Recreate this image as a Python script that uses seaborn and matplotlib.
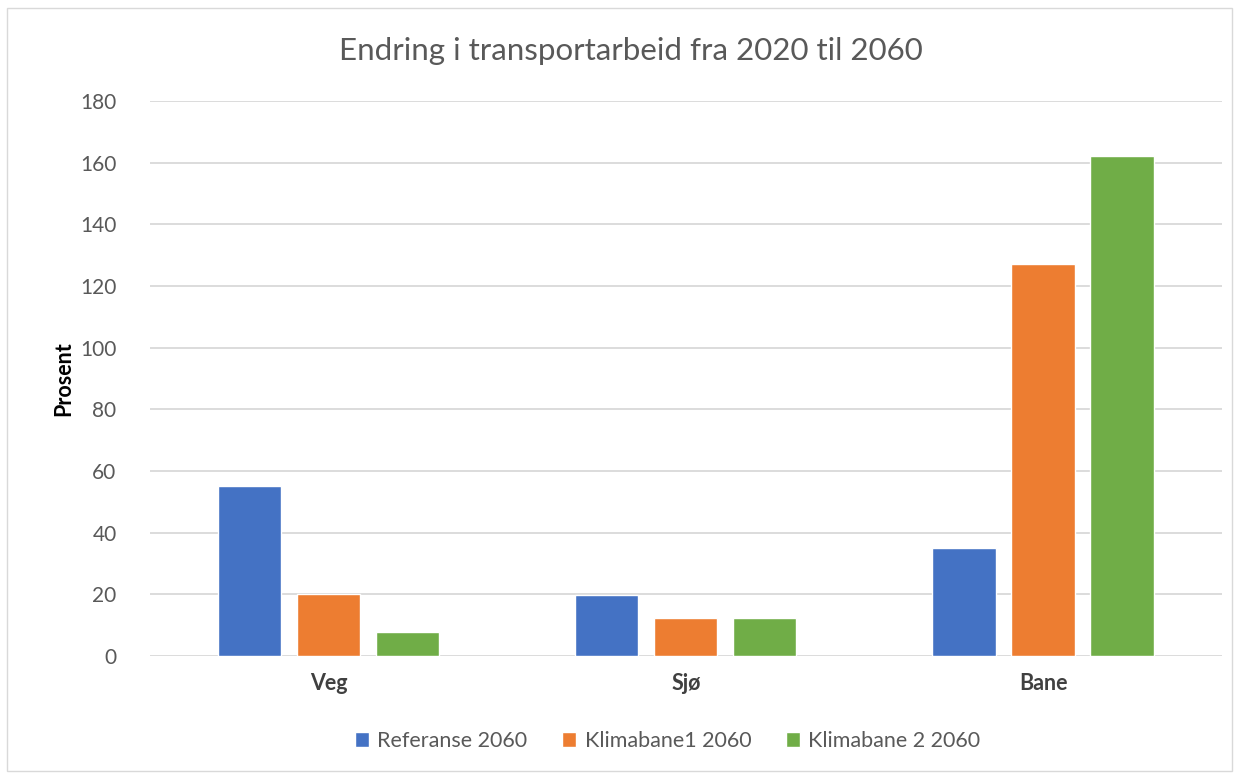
import numpy as np
import pandas as pd
import matplotlib.pyplot as plt
import seaborn as sns
from matplotlib.patches import Rectangle

# data
categories = ['Veg', 'Sjø', 'Bane']
series = ['Referanse 2060', 'Klimabane1 2060', 'Klimabane 2 2060']
referanse = [55, 19.7, 35]
klimabane1 = [20, 12.2, 127]
klimabane2 = [7.7, 12.2, 162]
colors = ['#4472C4', '#ED7D31', '#70AD47']

df = pd.DataFrame({
    'Kategori': categories * 3,
    'Serie': np.repeat(series, 3),
    'Prosent': referanse + klimabane1 + klimabane2,
})

sns.set_style('white')
plt.rcParams['font.family'] = ['Lato', 'DejaVu Sans']

fig = plt.figure(figsize=(12.39, 7.75), dpi=100)
ax = fig.add_axes([0.121, 0.1535, 0.865, 0.7162])

sns.barplot(data=df, x='Kategori', y='Prosent', hue='Serie', order=categories,
            hue_order=series, palette=colors, width=0.664, gap=0.2,
            saturation=1, ax=ax, legend=True)

ax.set_ylim(0, 180)
ax.set_yticks(range(0, 181, 20))
ax.set_xlim(-0.5, 2.5)
ax.yaxis.grid(True, color='#d9d9d9', lw=1.3)
ax.set_axisbelow(True)
for s in ax.spines.values():
    s.set_visible(False)
ax.tick_params(axis='y', length=0, labelsize=15, labelcolor='#595959', pad=24)
ax.tick_params(axis='x', length=0, labelsize=15.5, pad=12)
for t in ax.get_xticklabels():
    t.set_fontweight('bold')
    t.set_color('#404040')
ax.set_xlabel('')
ax.set_ylabel('Prosent', fontsize=15.5, fontweight='bold', color='black', labelpad=4)

fig.text(0.509, 0.934, 'Endring i transportarbeid fra 2020 til 2060', fontsize=22.5,
         color='#595959', ha='center', va='center')

ax.legend(loc='upper center', bbox_to_anchor=(0.483, -0.1), ncol=3, frameon=False,
          fontsize=15.5, handlelength=0.65, handleheight=0.65, handletextpad=0.4,
          columnspacing=1.6, labelcolor='#595959')

fig.patches.append(Rectangle((0.006, 0.005), 0.988, 0.985, transform=fig.transFigure,
                             fill=False, edgecolor='#d9d9d9', lw=1))

fig.savefig('out.png', dpi=100)
